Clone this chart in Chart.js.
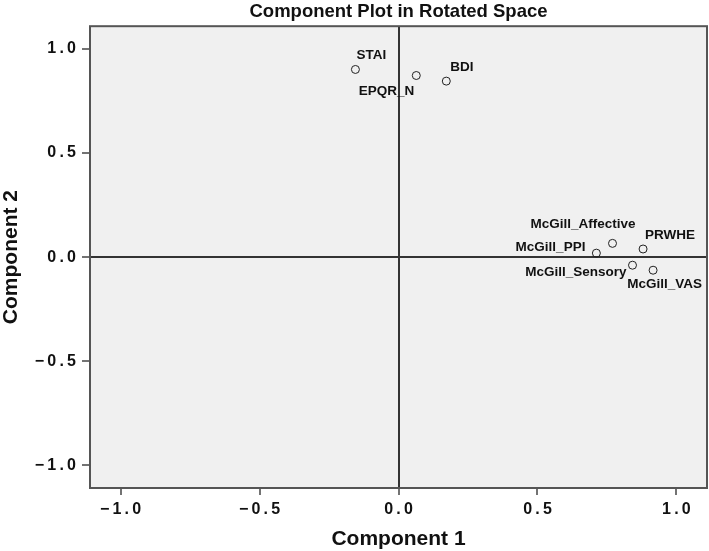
<!DOCTYPE html>
<html>
<head>
<meta charset="utf-8">
<script src="https://cdn.jsdelivr.net/npm/chart.js@4.4.1/dist/chart.umd.min.js"></script>
<style>
  html, body { margin: 0; padding: 0; background: #fff; }
  #wrap { width: 709px; height: 551px; }
</style>
</head>
<body>
<div id="wrap"><canvas id="plot"></canvas></div>
<script>
// ---------- Data ----------
const variables = ["STAI", "EPQR_N", "BDI", "McGill_PPI", "McGill_Affective", "PRWHE", "McGill_Sensory", "McGill_VAS"];
const comp1 = [-0.155, 0.064, 0.172, 0.712, 0.770, 0.880, 0.842, 0.916];
const comp2 = [0.902, 0.873, 0.846, 0.019, 0.066, 0.039, -0.039, -0.063];
const axisTicks = [-1.0, -0.5, 0.0, 0.5, 1.0];

// label placement next to each point (style only): [dx, dy, align]
const labelPlace = [
  [1, -14, "left"], [-2, 16, "right"], [4, -14, "left"], [-11, -6, "right"],
  [23, -19, "right"], [2, -14, "left"], [-6, 7, "right"], [49, 14, "right"]
];

const FONT = "'Liberation Sans', Arial, sans-serif";

// minus sign + letter spacing like the SPSS output
function fmtTick(v) {
  const s = Number(v).toFixed(1).replace("-", "\u2212");
  return s.split("").join("\u2009");
}

// ---------- Plugins ----------
const plotFrame = {
  id: "plotFrame",
  beforeDraw(chart) {
    const { ctx, chartArea: a } = chart;
    ctx.save();
    ctx.fillStyle = "#f0f0f0";
    ctx.fillRect(a.left, a.top, a.right - a.left, a.bottom - a.top);
    ctx.restore();
  },
  afterDraw(chart) {
    const { ctx, chartArea: a } = chart;
    ctx.save();
    ctx.strokeStyle = "#555";
    ctx.lineWidth = 2;
    ctx.strokeRect(a.left, a.top, a.right - a.left, a.bottom - a.top);
    ctx.restore();
  }
};

const pointLabels = {
  id: "pointLabels",
  afterDatasetsDraw(chart) {
    const { ctx } = chart;
    const meta = chart.getDatasetMeta(0);
    ctx.save();
    ctx.font = "bold 13.5px " + FONT;
    ctx.fillStyle = "#111";
    ctx.textBaseline = "middle";
    meta.data.forEach((pt, i) => {
      const p = labelPlace[i];
      ctx.textAlign = p[2];
      ctx.fillText(variables[i], pt.x + p[0], pt.y + p[1]);
    });
    ctx.restore();
  }
};

// ---------- Chart ----------
const zeroLine = (c) => (c.tick && c.tick.value === 0 ? "#333" : "rgba(0,0,0,0)");

new Chart(document.getElementById("plot"), {
  type: "scatter",
  data: {
    datasets: [{
      data: comp1.map((x, i) => ({ x, y: comp2[i] })),
      pointStyle: "circle",
      pointRadius: 4,
      pointBorderWidth: 1,
      pointBorderColor: "#222",
      pointBackgroundColor: "rgba(0,0,0,0)"
    }]
  },
  options: {
    responsive: true,
    maintainAspectRatio: false,
    animation: false,
    layout: { autoPadding: false, padding: { left: 0, right: 2, top: 0, bottom: 0 } },
    plugins: {
      legend: { display: false },
      tooltip: { enabled: false },
      title: {
        display: true,
        fullSize: false,
        text: "Component Plot in Rotated Space",
        color: "#111",
        font: { family: FONT, size: 18.5, weight: "bold" },
        padding: { top: 1, bottom: 3 }
      }
    },
    scales: {
      x: {
        type: "linear",
        min: -1.11,
        max: 1.11,
        afterBuildTicks: (s) => { s.ticks = axisTicks.map((v) => ({ value: v })); },
        afterFit: (s) => { s.height = 63; },
        grid: { color: zeroLine, lineWidth: 2, tickColor: "#444", tickLength: 7, tickWidth: 1.5 },
        border: { display: false },
        ticks: {
          callback: fmtTick,
          color: "#111",
          padding: 5,
          maxRotation: 0,
          font: { family: FONT, size: 16, weight: "bold" }
        },
        title: {
          display: true,
          text: "Component 1",
          color: "#111",
          font: { family: FONT, size: 21, weight: "bold", lineHeight: 1.0 },
          padding: { top: 0, bottom: 1 }
        }
      },
      y: {
        type: "linear",
        min: -1.11,
        max: 1.11,
        afterBuildTicks: (s) => { s.ticks = axisTicks.map((v) => ({ value: v })); },
        afterFit: (s) => { s.width = 90; },
        grid: { color: zeroLine, lineWidth: 2, tickColor: "#444", tickLength: 8, tickWidth: 1.5 },
        border: { display: false },
        ticks: {
          callback: fmtTick,
          color: "#111",
          padding: 6,
          font: { family: FONT, size: 16, weight: "bold" }
        },
        title: {
          display: true,
          text: "Component 2",
          color: "#111",
          font: { family: FONT, size: 21, weight: "bold", lineHeight: 1.0 },
          padding: { top: 1, bottom: 0 }
        }
      }
    }
  },
  plugins: [plotFrame, pointLabels]
});
</script>
</body>
</html>
